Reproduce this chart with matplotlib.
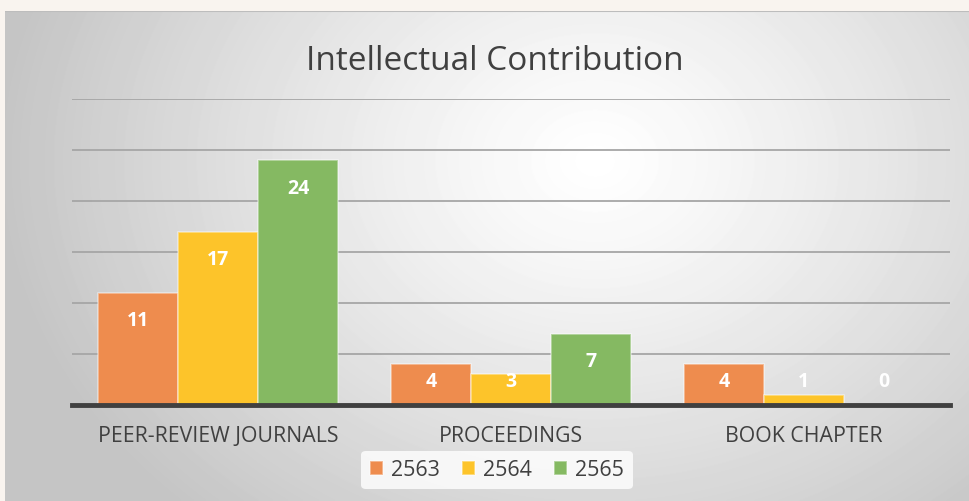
import numpy as np
import matplotlib.pyplot as plt

plt.rcParams['font.family'] = ['Open Sans', 'DejaVu Sans']

categories = ['PEER-REVIEW JOURNALS', 'PROCEEDINGS', 'BOOK CHAPTER']
years = ['2563', '2564', '2565']
values = {
    '2563': [11, 4, 4],
    '2564': [17, 3, 1],
    '2565': [24, 7, 0],
}
colors = ['#EE8C4E', '#FDC42A', '#85B962']

fig = plt.figure(figsize=(9.7, 5.01), dpi=100)
fig.patch.set_facecolor('#F9F4EF')

# gradient background panel
bg = fig.add_axes([5 / 970, 0, 1 - 5 / 970, 1 - 11 / 501])
yy, xx = np.mgrid[0:490, 0:965]
cx, cy = 590, 150
r = np.sqrt(((xx - cx) / 600.0) ** 2 + ((yy - cy) / 480.0) ** 2)
shade = 1.0 - 0.23 * np.clip(r, 0, 1) ** 1.2
bg.imshow(shade, cmap='gray', vmin=0, vmax=1, aspect='auto', interpolation='bilinear')
bg.axhline(0, color='#BDBDBD', lw=1.5)
bg.set_axis_off()

ax = fig.add_axes([72 / 970, 96 / 501, 878 / 970, 306 / 501])
ax.patch.set_alpha(0)

x = np.arange(len(categories))
width = 0.273
for i, (yr, col) in enumerate(zip(years, colors)):
    vals = values[yr]
    pos = x + (i - 1) * width
    ax.bar(pos, vals, width, color=col, edgecolor=(1, 1, 1, 0.45), linewidth=1.2,
           label=yr, zorder=3)
    for p, v in zip(pos, vals):
        ty = max(v - 2.8, 2.3)
        ax.text(p, ty, str(v), ha='center', va='center', color='white',
                fontsize=14, fontweight='bold', zorder=4)

ax.set_xlim(-0.5, 2.5)
ax.set_ylim(0, 30)
ax.set_yticks(np.arange(0, 31, 5))
ax.yaxis.grid(True, color='#A6A6A6', linewidth=1.3, zorder=0)
ax.tick_params(axis='y', length=0, labelleft=False)
ax.tick_params(axis='x', length=0, pad=15, labelsize=15.3, labelcolor='#404040')
ax.set_xticks(x)
ax.set_xticklabels(categories)
for s in ['top', 'right', 'left']:
    ax.spines[s].set_visible(False)
ax.spines['bottom'].set_color('#404040')
ax.spines['bottom'].set_linewidth(3.5)
ax.spines['bottom'].set_zorder(5)

fig.text(495 / 970, 1 - 62 / 501, 'Intellectual Contribution', ha='center', va='center',
         fontsize=24, color='#404040')

leg = fig.legend(loc='center', bbox_to_anchor=(497 / 970, 1 - 470 / 501), ncol=3,
                 frameon=True, fontsize=15.5, handlelength=0.6, handleheight=0.6,
                 handletextpad=0.4, columnspacing=1.0, borderpad=0.4)
leg.get_frame().set_facecolor((1, 1, 1, 0.15))
leg.get_frame().set_edgecolor('none')
for t in leg.get_texts():
    t.set_color('#404040')

fig.savefig('out.png', dpi=100)
